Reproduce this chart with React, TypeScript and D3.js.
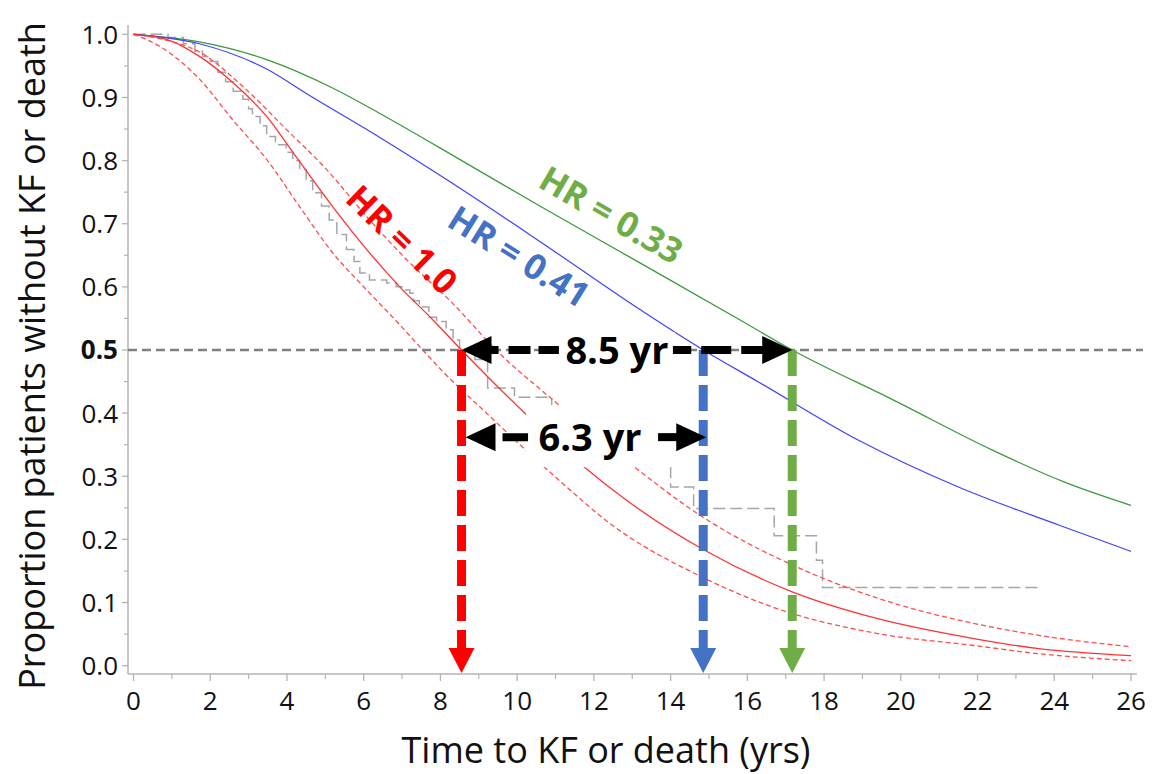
import React from "react";
import * as d3 from "d3";

type Pt = [number, number];

// survival: [years, proportion]
const refCurve: Pt[] = [
  [0, 1], [0.86, 0.992], [1.72, 0.965], [2.58, 0.924], [3.47, 0.87], [4.25, 0.805],
  [5.19, 0.727], [6.08, 0.659], [6.94, 0.6], [7.8, 0.548], [8.55, 0.5], [10.25, 0.397],
  [11.7, 0.317], [12.85, 0.262], [14.85, 0.184], [17.17, 0.117], [19.3, 0.076],
  [21.9, 0.043], [23.6, 0.027], [26, 0.016],
];
const refUpper: Pt[] = [
  [0, 1], [0.9, 0.99], [1.72, 0.972], [2.84, 0.918], [3.99, 0.849], [5.03, 0.786],
  [6.08, 0.711], [7.12, 0.643], [8.3, 0.575], [9.5, 0.497], [10.93, 0.421], [12.9, 0.322],
  [14.9, 0.233], [17.3, 0.156], [19.6, 0.103], [21.9, 0.067], [23.6, 0.048], [26, 0.03],
];
const refLower: Pt[] = [
  [0, 1], [0.68, 0.981], [1.72, 0.929], [2.58, 0.865], [3.47, 0.802], [4.33, 0.727],
  [5.19, 0.654], [6.08, 0.595], [6.94, 0.54], [7.54, 0.5], [8.06, 0.466], [9.2, 0.4],
  [10.25, 0.34], [11.63, 0.265], [12.15, 0.238], [14.9, 0.138], [16.7, 0.092],
  [19.3, 0.052], [21.9, 0.032], [23.6, 0.019], [26, 0.008],
];
const hr041Curve: Pt[] = [
  [0, 1], [1.72, 0.985], [3.47, 0.945], [4.59, 0.903], [6.41, 0.837], [8.16, 0.77],
  [10.59, 0.672], [13.2, 0.564], [14.85, 0.5], [16.3, 0.449], [18.9, 0.357], [21.5, 0.283],
  [24.15, 0.222], [26, 0.181],
];
const hr033Curve: Pt[] = [
  [0, 1], [1.72, 0.988], [3.47, 0.96], [5.19, 0.915], [6.41, 0.875], [8.5, 0.802],
  [10.59, 0.728], [13.2, 0.638], [15.8, 0.548], [17.17, 0.5], [19.8, 0.421], [22.4, 0.341],
  [24.3, 0.29], [26, 0.254],
];
// Kaplan-Meier steps: [time of drop, new value]
const kmSteps: Pt[] = [
  [0, 1], [0.9, 0.995], [1.3, 0.985], [1.6, 0.973], [1.8, 0.965], [2.0, 0.957], [2.2, 0.94],
  [2.4, 0.925], [2.6, 0.91], [2.85, 0.897], [3.0, 0.882], [3.1, 0.87], [3.3, 0.855],
  [3.47, 0.838], [3.7, 0.825], [3.98, 0.813], [4.15, 0.8], [4.33, 0.786], [4.5, 0.768],
  [4.67, 0.749], [4.9, 0.728], [5.1, 0.706], [5.3, 0.683], [5.55, 0.659], [5.75, 0.64],
  [5.9, 0.622], [6.15, 0.611], [6.6, 0.606], [6.85, 0.6], [7.0, 0.595], [7.2, 0.59],
  [7.3, 0.578], [7.45, 0.568], [7.7, 0.552], [7.9, 0.545], [8.15, 0.532], [8.33, 0.516],
  [8.5, 0.5], [8.9, 0.485], [9.23, 0.44], [9.93, 0.425], [10.9, 0.37], [12.3, 0.318],
  [14.0, 0.283], [14.6, 0.249], [16.7, 0.206], [17.8, 0.167], [17.96, 0.124], [23.65, 0.124],
];

const medianTimes = [8.55, 14.85, 17.17];
const medianColors = ["#ff0000", "#4472c4", "#70ad47"];

const xTicks = d3.range(0, 27, 2);
const xMinor = d3.range(1, 27, 2);
const yTicks = [0, 0.1, 0.2, 0.3, 0.4, 0.5, 0.6, 0.7, 0.8, 0.9, 1.0];
const yMinor = [0.05, 0.15, 0.25, 0.35, 0.45, 0.55, 0.65, 0.75, 0.85, 0.95];

const hrLabels = [
  { text: "HR = 1.0", t: 7.0, s: 0.675, angle: 44, color: "#ff0000" },
  { text: "HR = 0.41", t: 10.05, s: 0.648, angle: 32, color: "#4472c4" },
  { text: "HR = 0.33", t: 12.45, s: 0.714, angle: 30, color: "#70ad47" },
];

const FONT = "'Open Sans', 'Noto Sans', sans-serif";

export default function App() {
  const x = d3.scaleLinear().domain([0, 26]).range([133.5, 1131]);
  const y = d3.scaleLinear().domain([0, 1]).range([665.7, 34.3]);
  const axisX = 128;
  const axisY = 674;

  const smooth = d3.line<Pt>().x((d) => x(d[0])).y((d) => y(d[1])).curve(d3.curveMonotoneX);
  const stepped = d3.line<Pt>().x((d) => x(d[0])).y((d) => y(d[1])).curve(d3.curveStepAfter);

  const y50 = y(0.5);
  const [xRed, xBlue, xGreen] = medianTimes.map((t) => x(t));

  // horizontal double arrow; shaft pieces run from each head towards the label
  const headL = 30;
  const headH = 14;
  const hArrow = (
    x1: number, x2: number, yy: number,
    gapL: number, gapR: number, dashL: string, dashR: string, key: string
  ) => (
    <g key={key}>
      <path d={`M${x1},${yy} L${x1 + headL},${yy - headH} L${x1 + headL},${yy + headH} Z`} fill="#000" />
      <path d={`M${x2},${yy} L${x2 - headL},${yy - headH} L${x2 - headL},${yy + headH} Z`} fill="#000" />
      <line x1={x1 + headL - 1} x2={gapL} y1={yy} y2={yy} stroke="#000" strokeWidth={8} strokeDasharray={dashL} />
      <line x1={x2 - headL + 1} x2={gapR} y1={yy} y2={yy} stroke="#000" strokeWidth={8} strokeDasharray={dashR} />
    </g>
  );

  const y63 = y(0.362);
  const label85x = x(12.6);
  const label63x = x(11.9);

  return (
    <svg width={1154} height={774} style={{ position: "absolute", left: 0, top: 0, background: "#fff" }} fontFamily={FONT}>
      <rect width={1154} height={774} fill="#fff" />

      {/* axes */}
      <line x1={axisX} x2={axisX} y1={25} y2={axisY} stroke="#b4b4b4" strokeWidth={1.5} />
      <line x1={axisX} x2={1137} y1={axisY} y2={axisY} stroke="#b4b4b4" strokeWidth={1.5} />
      {yTicks.map((v) => (
        <g key={"yt" + v}>
          <line x1={axisX - 6} x2={axisX} y1={y(v)} y2={y(v)} stroke="#b4b4b4" strokeWidth={1.3} />
          <text x={118} y={y(v)} dy="0.36em" textAnchor="end" fontSize={26} fill="#111"
            fontWeight={v === 0.5 ? 700 : 400}>{v.toFixed(1)}</text>
        </g>
      ))}
      {yMinor.map((v) => (
        <line key={"ym" + v} x1={axisX - 4} x2={axisX} y1={y(v)} y2={y(v)} stroke="#b4b4b4" strokeWidth={1.2} />
      ))}
      {xTicks.map((v) => (
        <g key={"xt" + v}>
          <line x1={x(v)} x2={x(v)} y1={axisY} y2={axisY + 7} stroke="#b4b4b4" strokeWidth={1.3} />
          <text x={x(v)} y={710} textAnchor="middle" fontSize={26} fill="#111">{v}</text>
        </g>
      ))}
      {xMinor.map((v) => (
        <line key={"xm" + v} x1={x(v)} x2={x(v)} y1={axisY} y2={axisY + 5} stroke="#b4b4b4" strokeWidth={1.2} />
      ))}
      <text transform={`translate(45,356) rotate(-90)`} textAnchor="middle" fontSize={36} fill="#111">
        Proportion patients without KF or death
      </text>
      <text x={606} y={763} textAnchor="middle" fontSize={36} fill="#111">Time to KF or death (yrs)</text>

      {/* curves */}
      <path d={stepped(kmSteps) ?? ""} fill="none" stroke="#a6a6a6" strokeWidth={1.5} strokeDasharray="12,5" />
      <path d={smooth(hr033Curve) ?? ""} fill="none" stroke="#3c9a3c" strokeWidth={1.3} />
      <path d={smooth(hr041Curve) ?? ""} fill="none" stroke="#4040ff" strokeWidth={1.2} />
      <path d={smooth(refUpper) ?? ""} fill="none" stroke="#ff4d4d" strokeWidth={1.3} strokeDasharray="5,3" />
      <path d={smooth(refLower) ?? ""} fill="none" stroke="#ff4d4d" strokeWidth={1.3} strokeDasharray="5,3" />
      <path d={smooth(refCurve) ?? ""} fill="none" stroke="#ff3333" strokeWidth={1.3} />

      {/* median reference line */}
      <line x1={axisX} x2={1143} y1={y50} y2={y50} stroke="#808080" strokeWidth={2.5} strokeDasharray="9,5" />

      {/* text boxes hiding lines behind labels */}
      <rect x={label63x - 64} y={y63 - 32} width={145} height={62} fill="#fff" />
      <rect x={label85x - 56} y={y50 - 18} width={114} height={37} fill="#fff" />

      {/* vertical median arrows */}
      {medianTimes.map((t, i) => {
        const xx = x(t);
        return (
          <g key={"va" + i}>
            <line x1={xx} x2={xx} y1={y50} y2={axisY - 24} stroke={medianColors[i]} strokeWidth={9} strokeDasharray="26,9" />
            <path d={`M${xx - 13},${axisY - 26} L${xx + 13},${axisY - 26} L${xx},${axisY - 1} Z`} fill={medianColors[i]} />
          </g>
        );
      })}

      {hArrow(xRed, xGreen, y50, label85x - 58, label85x + 56, "8,10,22,8,22", "22,10,30,10,22", "a85")}
      {hArrow(xRed + 4, xBlue + 3, y63, label63x - 62, label63x + 68, "0,8,30", "24", "a63")}

      <text x={label85x} y={y50} dy="0.36em" textAnchor="middle" fontSize={38} fontWeight={700} fill="#000">8.5 yr</text>
      <text x={label63x} y={y63} dy="0.36em" textAnchor="middle" fontSize={38} fontWeight={700} fill="#000">6.3 yr</text>

      {hrLabels.map((l) => (
        <text key={l.text} transform={`translate(${x(l.t)},${y(l.s)}) rotate(${l.angle})`} dy="0.36em"
          textAnchor="middle" fontSize={35} fontWeight={700} fill={l.color}>{l.text}</text>
      ))}
    </svg>
  );
}
